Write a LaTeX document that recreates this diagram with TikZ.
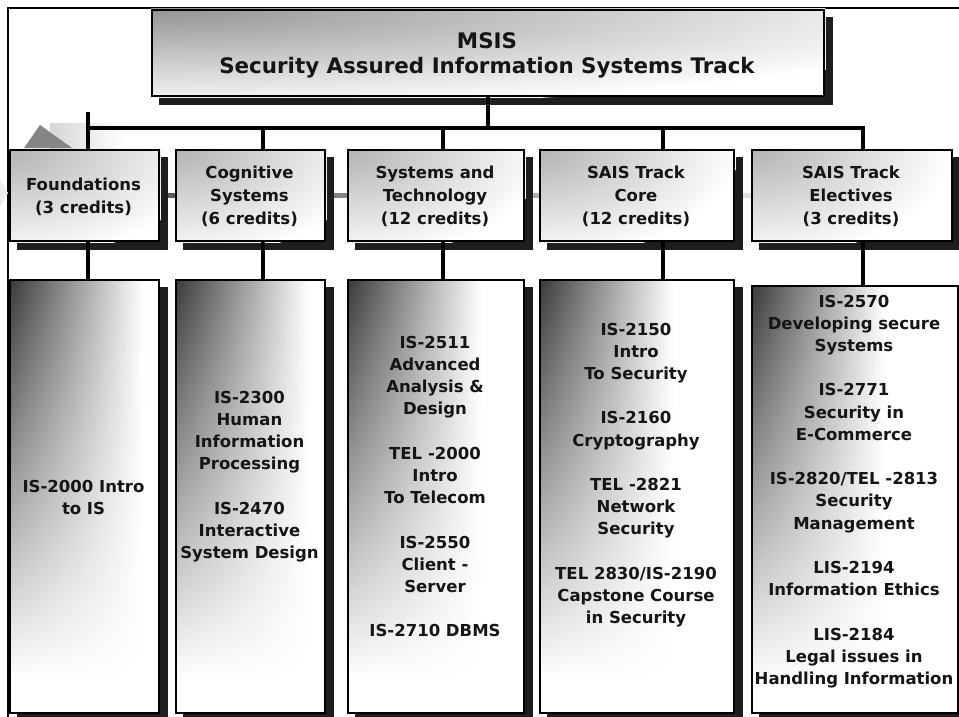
\documentclass[tikz,border=0pt]{standalone}
\usepackage{fontspec}
\setmainfont{DejaVu Sans}
\usetikzlibrary{calc}
\pgfdeclarelayer{band}
\pgfdeclarelayer{shadow}
\pgfdeclarelayer{shade}
\pgfsetlayers{band,shadow,shade,main}
\definecolor{shadowc}{HTML}{1E1E1E}
\definecolor{inkc}{HTML}{151515}

% white box with a soft grey glow spreading from its top-left corner
\newcommand\fadefill[4]{%
  \begin{scope}
    \clip (#1.north west) rectangle (#1.south east);
    \fill[white] (#1.north west) rectangle (#1.south east);
    \shade[inner color=#2, outer color=white] (#1.north west) ellipse [x radius=#3, y radius=#4];
  \end{scope}}
% course column: grey that fades downwards over 400pt and grows weaker
% to the right over 135pt (built from thin vertical strips)
\newcommand\columnfill[1]{%
  \begin{scope}
    \clip (#1.north west) rectangle (#1.south east);
    \fill[white] (#1.north west) rectangle (#1.south east);
    \foreach \j in {0,...,44} {
      \pgfmathsetmacro\dk{78*(1-(3*\j+1.5)/135)}
      \shade[top color=black!\dk, bottom color=white]
        ($(#1.north west)+(3*\j,0)$) rectangle ($(#1.north west)+(3*\j+3.4,400)$);
    }
  \end{scope}}

\begin{document}
\begin{tikzpicture}[x=1pt,y=-1pt,
  box/.style={draw=black, line width=2.4pt, anchor=north west, inner sep=0pt, text=inkc},
  conn/.style={line width=4pt},
  ttl/.style={font=\fontsize{21.4}{25}\selectfont\bfseries, align=center, text=inkc},
  hdr/.style={font=\fontsize{16.5}{23}\selectfont\bfseries, align=center, text=inkc},
  crs/.style={font=\fontsize{16.5}{22.2}\selectfont\bfseries, align=center, text=inkc},
  hbox/.style={box, minimum height=91pt},
  cbox/.style={box, minimum height=433pt},
]
\useasboundingbox (0,0) rectangle (959,717);

% ---- title ----
\node[box, minimum width=672pt, minimum height=86pt] (title) at (151,9) {};
\node[ttl] (titlet) at (487,55) {MSIS\\Security Assured Information Systems Track};

% ---- second level: areas ----
\node[hbox, minimum width=149pt] (f) at (9,149)   {};
\node[hbox, minimum width=149pt] (c) at (175,149) {};
\node[hbox, minimum width=176pt] (s) at (347,149) {};
\node[hbox, minimum width=194pt] (k) at (539,149) {};
\node[hbox, minimum width=200pt] (e) at (751,149) {};

\node[hdr] (ft) at (83.5,196.5) {Foundations\\(3 credits)};
\node[hdr] (ct) at (249.5,196.5) {Cognitive\\Systems\\(6 credits)};
\node[hdr] (st) at (435,196.5) {Systems and\\Technology\\(12 credits)};
\node[hdr] (kt) at (636,196.5) {SAIS Track\\Core\\(12 credits)};
\node[hdr] (et) at (851,196.5) {SAIS Track\\Electives\\(3 credits)};

% ---- third level: course columns ----
\node[cbox, minimum width=149pt] (f3) at (9,279) {};
\node[cbox, minimum width=149pt] (c3) at (175,279) {};
\node[cbox, minimum width=176pt] (s3) at (347,279) {};
\node[cbox, minimum width=194pt] (k3) at (539,279) {};
\node[box, minimum width=206pt, minimum height=427pt] (e3) at (751,285) {};

\node[crs] (f3t) at (83.5,497.5) {IS-2000 Intro\\to IS};
\node[crs] (c3t) at (249.5,476.5) {IS-2300\\Human\\Information\\Processing\\[22.2pt]
  IS-2470\\Interactive\\System Design};
\node[crs] (s3t) at (435,486.5) {IS-2511\\Advanced\\Analysis \&\\Design\\[22.2pt]
  TEL -2000\\Intro\\To Telecom\\[22.2pt]
  IS-2550\\Client -\\Server\\[22.2pt]
  IS-2710 DBMS};
\node[crs] (k3t) at (636,475) {IS-2150\\Intro\\To Security\\[22.2pt]
  IS-2160\\Cryptography\\[22.2pt]
  TEL -2821\\Network\\Security\\[22.2pt]
  TEL 2830/IS-2190\\Capstone Course\\in Security};
\node[crs] (e3t) at (854,491.5) {IS-2570\\Developing secure\\Systems\\[22.2pt]
  IS-2771\\Security in\\E-Commerce\\[22.2pt]
  IS-2820/TEL -2813\\Security\\Management\\[22.2pt]
  LIS-2194\\Information Ethics\\[22.2pt]
  LIS-2184\\Legal issues in\\Handling Information};

% ---- connector lines ----
\coordinate (stub) at (88,112);
\coordinate (busL) at (88,128);
\coordinate (busR) at (863,128);
\coordinate (xc) at (263,128);
\coordinate (xs) at (443,128);
\coordinate (xk) at (663,128);

\draw[conn] (title.south) -- (title.south |- busL);
\draw[conn, line cap=rect] (busL) -- (busR);
\draw[conn] (stub) -- (stub |- f.north);
\draw[conn] (xc) -- (xc |- c.north);
\draw[conn] (xs) -- (xs |- s.north);
\draw[conn] (xk) -- (xk |- k.north);
\draw[conn] (busR) -- (busR |- e.north);

\draw[conn] (stub |- f.south) -- (stub |- f3.north);
\draw[conn] (xc |- c.south) -- (xc |- c3.north);
\draw[conn] (xs |- s.south) -- (xs |- s3.north);
\draw[conn] (xk |- k.south) -- (xk |- k3.north);
\draw[conn] (busR |- e.south) -- (busR |- e3.north);

% ---- backdrop: frame, grey band and arrow tip ----
\begin{pgfonlayer}{band}
  \draw[line width=2pt] (8,717) -- (8,8) -- (959,8);
  \shade[left color=black!78, right color=black!12] (9,193) rectangle (751,197);
  \shade[left color=black!16, right color=white] (50,123) rectangle (125,148);
  \fill[black!48] (24,148) -- (40,125) -- (72,148) -- cycle;
  \fill[black!7] (0,180) -- (8,193) -- (0,207) -- cycle;
\end{pgfonlayer}

% ---- drop shadows ----
\begin{pgfonlayer}{shadow}
  \foreach \n in {title,f,c,s,k,e,f3,c3,s3,k3,e3}
    \fill[shadowc] ($(\n.north west)+(8,8)$) rectangle ($(\n.south east)+(8,8)$);
\end{pgfonlayer}

% ---- box fills ----
\begin{pgfonlayer}{shade}
  \fadefill{title}{black!42}{850pt}{100pt}
  \foreach \n in {f,c,s,k,e}
    {\fadefill{\n}{black!30}{200pt}{110pt}}
  \foreach \n in {f3,c3,s3,k3,e3}
    {\columnfill{\n}}
\end{pgfonlayer}
\end{tikzpicture}
\end{document}
